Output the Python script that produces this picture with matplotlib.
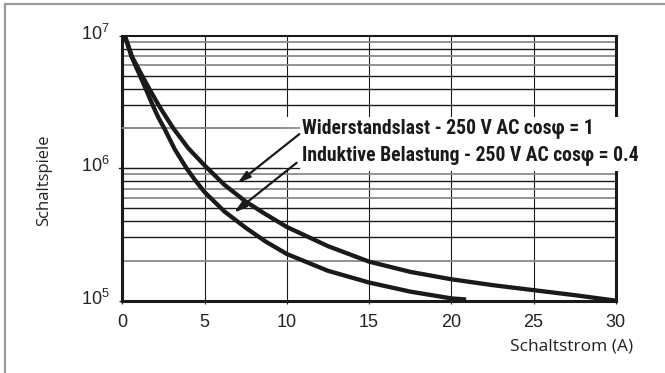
import matplotlib
matplotlib.use("Agg")
import matplotlib.pyplot as plt
import matplotlib.transforms as mtransforms
from matplotlib import font_manager
from matplotlib.patches import Rectangle
from matplotlib.ticker import LogLocator, NullLocator, FixedLocator

# Switching current (A) vs. number of switching cycles
res_current = [0.15, 0.6, 1.2, 1.7, 2.2, 2.6, 3.1, 4.0, 5.0, 6.2, 7.5, 8.7, 10,
               12.5, 15, 17.5, 20, 22.5, 25, 27.5, 30]
res_cycles = [1e7, 6.9e6, 5e6, 3.85e6, 3e6, 2.5e6, 2e6, 1.42e6, 1.05e6, 7.5e5, 5.6e5,
              4.5e5, 3.6e5, 2.58e5, 1.97e5, 1.65e5, 1.45e5, 1.31e5, 1.2e5, 1.1e5, 1.0e5]

ind_current = [0.15, 0.55, 1.07, 1.45, 1.84, 2.2, 2.55, 3.2, 3.9, 4.4, 5.0, 6.2, 7.5,
               8.7, 10, 12.5, 15, 17.5, 20, 20.9]
ind_cycles = [1e7, 7e6, 5e6, 3.9e6, 3e6, 2.4e6, 2e6, 1.38e6, 1e6, 8.2e5, 6.6e5, 4.72e5,
              3.55e5, 2.8e5, 2.25e5, 1.68e5, 1.37e5, 1.17e5, 1.04e5, 1.02e5]

x_ticks = [0, 5, 10, 15, 20, 25, 30]
label_res = "Widerstandslast - 250 V AC cosφ = 1"
label_ind = "Induktive Belastung - 250 V AC cosφ = 0.4"

DARK = "#1a1a1a"
GREY = "#8a8a8a"

plt.rcParams["font.family"] = ["Liberation Sans", "DejaVu Sans"]

installed = {f.name for f in font_manager.fontManager.ttflist}
narrow_candidates = ["Liberation Sans Narrow", "Roboto Condensed", "Open Sans Condensed",
                     "Noto Sans Condensed", "DejaVu Sans Condensed", "Roboto",
                     "Liberation Sans"]
label_family = next(f for f in narrow_candidates if f in installed or f == "Liberation Sans")

fig = plt.figure(figsize=(6.65, 3.73), dpi=100)
ax = fig.add_axes([0.184, 0.194, 0.742, 0.710])

ax.set_yscale("log")
ax.set_xlim(0, 30)
ax.set_ylim(1e5, 1e7)

# grid
for xv in x_ticks[1:-1]:
    ax.axvline(xv, color=DARK, lw=0.8, zorder=1)
minor_cols = {2: GREY, 3: DARK, 4: DARK, 5: DARK, 6: GREY, 7: GREY, 8: DARK, 9: GREY}
for dec in (1e5, 1e6):
    for m, c in minor_cols.items():
        ax.axhline(m * dec, color=c, lw=1.0 if c == DARK else 1.3, zorder=1)
ax.axhline(1e6, color=DARK, lw=0.9, zorder=1)

# white label panel over the grid
blend = mtransforms.blended_transform_factory(ax.transAxes, ax.transData)
ax.add_patch(Rectangle((0.326, 9.5e5), 0.75, 2.43e6 - 9.5e5, transform=blend,
                       facecolor="white", edgecolor="none", zorder=3, clip_on=False))
ax.plot([0, 0.358], [2e6, 2e6], transform=blend, color=GREY, lw=1.3, zorder=3.5)
ax.plot([-0.006, 0.358], [1e6, 1e6], transform=blend, color=DARK, lw=0.9, zorder=3.5,
        clip_on=False)

# curves
ax.plot(res_current, res_cycles, color=DARK, lw=3.1, solid_capstyle="butt",
        solid_joinstyle="round", zorder=4)
ax.plot(ind_current, ind_cycles, color=DARK, lw=3.1, solid_capstyle="butt",
        solid_joinstyle="round", zorder=4)

# arrows from labels to curves
arrow = dict(arrowstyle="-|>,head_length=0.75,head_width=0.22", lw=1.6, color=DARK,
             shrinkA=0, shrinkB=0)
ax.annotate("", xy=(7.0, 7.7e5), xytext=(10.76, 1.81e6), arrowprops=arrow, zorder=5)
ax.annotate("", xy=(6.79, 4.62e5), xytext=(10.6, 1.10e6), arrowprops=arrow, zorder=5)

txt_font = dict(family=[label_family, "DejaVu Sans"], fontweight="bold",
                fontsize=13, color=DARK, ha="left", va="center", zorder=6)
t1 = ax.text(10.92, 2.01e6, label_res, **txt_font)
t2 = ax.text(10.92, 1.26e6, label_ind, **txt_font)

# size the label block so the first line spans about 291 px
renderer = fig.canvas.get_renderer()
w = t1.get_window_extent(renderer).width
size = min(14.5, 13 * 291 / w)
t1.set_fontsize(size)
t2.set_fontsize(size)

# spines
for side, wd in (("left", 2.2), ("bottom", 2.2), ("right", 2.2), ("top", 1.5)):
    ax.spines[side].set_linewidth(wd)
    ax.spines[side].set_color(DARK)
    ax.spines[side].set_zorder(2.5)

ax.xaxis.set_major_locator(FixedLocator(x_ticks))
ax.yaxis.set_major_locator(LogLocator(base=10, numticks=5))
ax.yaxis.set_minor_locator(NullLocator())
ax.tick_params(axis="both", which="major", length=2.2, width=0.8, color=DARK,
               labelsize=13, labelcolor="#222222")
ax.tick_params(axis="x", pad=7.5)
ax.tick_params(axis="y", pad=7)

ax.set_xlabel("Schaltstrom (A)", fontsize=12.5, family="Open Sans", color="#222222",
              ha="right", va="center")
ax.xaxis.set_label_coords(1.035, -0.174)
ax.set_ylabel("Schaltspiele", fontsize=12, family="Open Sans", color="#222222",
              ha="center", va="center")
ax.yaxis.set_label_coords(-0.158, 0.455)

# raise the decade labels slightly above their grid lines
fig.canvas.draw()
lift = mtransforms.ScaledTranslation(0, 4 / 100, fig.dpi_scale_trans)
for tick in ax.yaxis.get_major_ticks():
    tick.label1.set_transform(tick.label1.get_transform() + lift)

# outer frame
fig.add_artist(Rectangle((4.5 / 665, -0.1), 1.2, 1 - 4 / 373 + 0.1, transform=fig.transFigure,
                         facecolor="none", edgecolor="#9a9a9a", lw=1.6))

fig.savefig("out.png", dpi=100)
